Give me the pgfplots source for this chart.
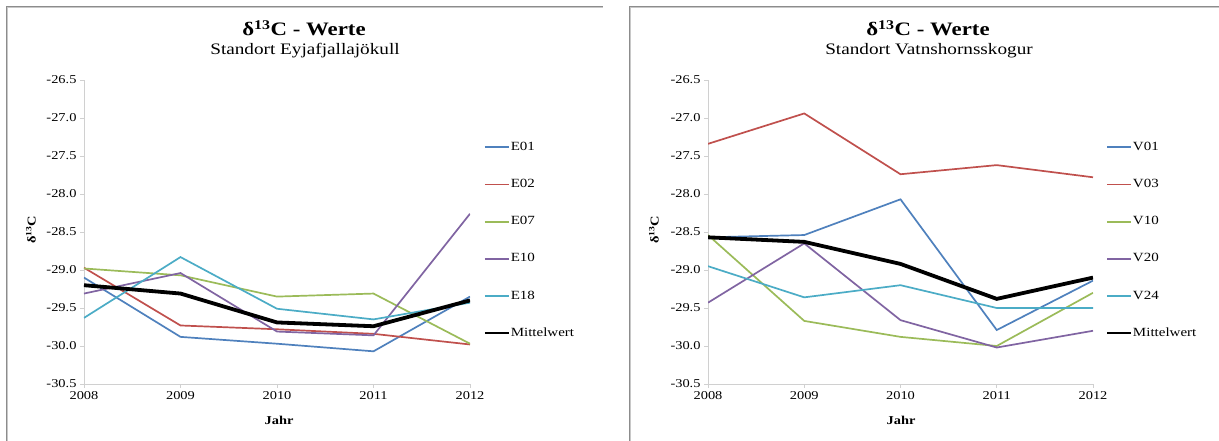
\documentclass[border=0pt]{standalone}
\usepackage{pgfplots}
\pgfplotsset{compat=1.18}
\usepackage{fontspec}
\setmainfont{Liberation Serif}[FakeStretch=1.2]
\definecolor{cBlue}{HTML}{4F81BD}
\definecolor{cRed}{HTML}{C0504D}
\definecolor{cGreen}{HTML}{9BBB59}
\definecolor{cPurple}{HTML}{8064A2}
\definecolor{cCyan}{HTML}{4BACC6}
\definecolor{axgray}{HTML}{D0D0D0}
\definecolor{frameA}{HTML}{8C8C8C}
\definecolor{frameB}{HTML}{C8C8C8}
\pgfplotsset{
  myaxis/.style={
    scale only axis,
    anchor=south west,
    height=304pt,
    xmin=2008, xmax=2012,
    ymin=-30.5, ymax=-26.5,
    xtick={2008,2009,2010,2011,2012},
    ytick={-30.5,-30,-29.5,-29,-28.5,-28,-27.5,-27,-26.5},
    axis x line*=bottom,
    axis y line*=left,
    axis line style={axgray, line width=0.8pt, -},
    tick style={axgray, line width=0.8pt},
    tick align=outside,
    major tick length=4pt,
    /pgf/number format/assume math mode=true,
    ticklabel style={font=\fontsize{12}{14}\selectfont},
    yticklabel style={/pgf/number format/.cd, fixed, fixed zerofill, precision=1},
    xticklabel style={/pgf/number format/.cd, 1000 sep={}},
    legend style={draw=none, fill=none, inner sep=0pt, row sep=25.2pt,
      column sep=1pt, anchor=north west,
      nodes={inner sep=0pt, text height=9pt, text depth=3pt, font=\fontsize{12.5}{14}\selectfont}},
    legend cell align=left,
    legend image code/.code={\draw[line width=1.7pt,##1] (0pt,0pt) -- (24pt,0pt);},
    every axis plot/.append style={line width=1.7pt},
  }
}
\begin{document}
\begin{tikzpicture}[x=1pt,y=1pt]
\useasboundingbox (0,0) rectangle (1219,441);
\fill[white] (0,0) rectangle (1219,441);
% frames
\draw[frameA, line width=1.2pt] (6.5,-2) -- (6.5,434.5) -- (603,434.5);
\draw[frameB, line width=1pt] (7.8,-2) -- (7.8,433.2) -- (603,433.2);
\draw[frameA, line width=1.2pt] (629.5,-2) -- (629.5,434.5) -- (1221,434.5);
\draw[frameB, line width=1pt] (630.8,-2) -- (630.8,433.2) -- (1221,433.2);

% left panel
\begin{axis}[myaxis, at={(84pt,57pt)}, width=386pt,
  legend style={at={(1.036,0.799)}}]
\addplot[cBlue] coordinates {(2008,-29.10) (2009,-29.88) (2010,-29.97) (2011,-30.07) (2012,-29.35)};
\addlegendentry{E01}
\addplot[cRed] coordinates {(2008,-28.97) (2009,-29.73) (2010,-29.78) (2011,-29.84) (2012,-29.98)};
\addlegendentry{E02}
\addplot[cGreen] coordinates {(2008,-28.98) (2009,-29.07) (2010,-29.35) (2011,-29.31) (2012,-29.97)};
\addlegendentry{E07}
\addplot[cPurple] coordinates {(2008,-29.31) (2009,-29.04) (2010,-29.81) (2011,-29.86) (2012,-28.26)};
\addlegendentry{E10}
\addplot[cCyan] coordinates {(2008,-29.63) (2009,-28.83) (2010,-29.51) (2011,-29.65) (2012,-29.43)};
\addlegendentry{E18}
\addplot[black, line width=3.8pt] coordinates {(2008,-29.20) (2009,-29.31) (2010,-29.69) (2011,-29.74) (2012,-29.40)};
\addlegendentry{Mittelwert}
\end{axis}

% right panel
\begin{axis}[myaxis, at={(708pt,57pt)}, width=385pt,
  legend style={at={(1.034,0.799)}}]
\addplot[cBlue] coordinates {(2008,-28.57) (2009,-28.54) (2010,-28.07) (2011,-29.79) (2012,-29.14)};
\addlegendentry{V01}
\addplot[cRed] coordinates {(2008,-27.34) (2009,-26.94) (2010,-27.74) (2011,-27.62) (2012,-27.78)};
\addlegendentry{V03}
\addplot[cGreen] coordinates {(2008,-28.54) (2009,-29.67) (2010,-29.88) (2011,-30.00) (2012,-29.30)};
\addlegendentry{V10}
\addplot[cPurple] coordinates {(2008,-29.43) (2009,-28.65) (2010,-29.66) (2011,-30.02) (2012,-29.80)};
\addlegendentry{V20}
\addplot[cCyan] coordinates {(2008,-28.95) (2009,-29.36) (2010,-29.20) (2011,-29.50) (2012,-29.50)};
\addlegendentry{V24}
\addplot[black, line width=3.8pt] coordinates {(2008,-28.57) (2009,-28.63) (2010,-28.92) (2011,-29.38) (2012,-29.10)};
\addlegendentry{Mittelwert}
\end{axis}

% titles
\node[anchor=base, font=\bfseries\fontsize{19}{21}\selectfont] at (304,405) {δ\textsuperscript{13}C - Werte};
\node[anchor=base, font=\fontsize{16}{18}\selectfont] at (305,386.5) {Standort Eyjafjallajökull};
\node[anchor=base, font=\bfseries\fontsize{19}{21}\selectfont] at (928,405) {δ\textsuperscript{13}C - Werte};
\node[anchor=base, font=\fontsize{16}{18}\selectfont] at (929,386.5) {Standort Vatnshornsskogur};
% axis labels
\node[rotate=90, font=\bfseries\fontsize{12}{14}\selectfont] at (31,211) {δ\textsuperscript{13}C};
\node[rotate=90, font=\bfseries\fontsize{12}{14}\selectfont] at (654,211) {δ\textsuperscript{13}C};
\node[anchor=base, font=\bfseries\fontsize{12}{14}\selectfont] at (279,16) {Jahr};
\node[anchor=base, font=\bfseries\fontsize{12}{14}\selectfont] at (901,16) {Jahr};
\end{tikzpicture}
\end{document}
